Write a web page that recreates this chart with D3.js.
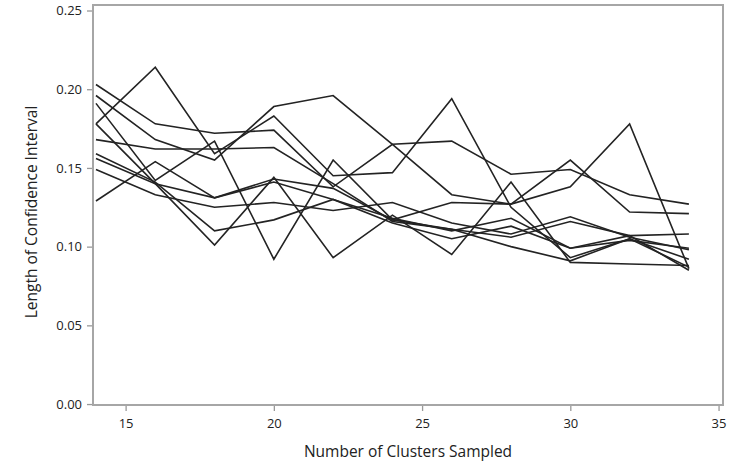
<!DOCTYPE html>
<html>
<head>
<meta charset="utf-8">
<script src="https://cdn.jsdelivr.net/npm/d3@7"></script>
<style>
  body { margin: 0; background: #fff; }
  text { font-family: "Open Sans", "Noto Sans", sans-serif; fill: #222; }
</style>
</head>
<body>
<svg id="chart" width="733" height="464"></svg>
<script>
// number of clusters sampled
const clusters = [14, 16, 18, 20, 22, 24, 26, 28, 30, 32, 34];

// length of confidence interval, one array per replicate
const run1  = [0.203, 0.178, 0.172, 0.174, 0.138, 0.165, 0.167, 0.146, 0.149, 0.133, 0.127];
const run2  = [0.196, 0.168, 0.155, 0.189, 0.196, 0.165, 0.133, 0.127, 0.155, 0.122, 0.121];
const run3  = [0.191, 0.142, 0.167, 0.092, 0.155, 0.117, 0.128, 0.127, 0.138, 0.178, 0.086];
const run4  = [0.178, 0.214, 0.159, 0.183, 0.145, 0.147, 0.194, 0.125, 0.093, 0.105, 0.092];
const run5  = [0.178, 0.140, 0.101, 0.144, 0.093, 0.120, 0.095, 0.141, 0.090, 0.089, 0.088];
const run6  = [0.168, 0.162, 0.162, 0.163, 0.140, 0.116, 0.111, 0.106, 0.116, 0.107, 0.108];
const run7  = [0.159, 0.141, 0.110, 0.117, 0.130, 0.115, 0.105, 0.113, 0.099, 0.104, 0.099];
const run8  = [0.156, 0.140, 0.131, 0.143, 0.137, 0.117, 0.111, 0.100, 0.091, 0.105, 0.087];
const run9  = [0.149, 0.133, 0.125, 0.128, 0.123, 0.128, 0.115, 0.108, 0.119, 0.106, 0.098];
const run10 = [0.129, 0.154, 0.131, 0.141, 0.130, 0.118, 0.110, 0.118, 0.099, 0.107, 0.085];
const runs = [run1, run2, run3, run4, run5, run6, run7, run8, run9, run10];

const xTicks = [15, 20, 25, 30, 35];
const yTicks = [0, 0.05, 0.10, 0.15, 0.20, 0.25];

const svg = d3.select("#chart");
const plotL = 93, plotR = 723, plotT = 5, plotB = 405;

const x = d3.scaleLinear().domain([13.9, 35.15]).range([plotL, plotR]);
const y = d3.scaleLinear().domain([-0.0006, 0.2535]).range([plotB, plotT]);

// axes
const xAxis = svg.append("g")
  .attr("transform", `translate(0,${plotB})`)
  .call(d3.axisBottom(x).tickValues(xTicks).tickFormat(d3.format("d")).tickSize(6).tickPadding(8));
const yAxis = svg.append("g")
  .attr("transform", `translate(${plotL},0)`)
  .call(d3.axisLeft(y).tickValues(yTicks).tickFormat(d3.format(".2f")).tickSize(6).tickPadding(5));

[xAxis, yAxis].forEach(g => {
  g.select(".domain").remove();
  g.selectAll(".tick line").attr("stroke", "#999").attr("stroke-width", 1.3);
  g.selectAll(".tick text").style("font-size", "13px").attr("fill", "#222");
});

// frame
svg.append("rect")
  .attr("x", plotL).attr("y", plotT)
  .attr("width", plotR - plotL).attr("height", plotB - plotT)
  .attr("fill", "none").attr("stroke", "#a6a6a6").attr("stroke-width", 2);

// lines
const line = d3.line()
  .x((d, i) => x(clusters[i]))
  .y(d => y(d));

svg.append("g").selectAll("path")
  .data(runs)
  .join("path")
  .attr("d", line)
  .attr("fill", "none")
  .attr("stroke", "#232323")
  .attr("stroke-width", 1.6)
  .attr("stroke-linejoin", "miter");

// titles
svg.append("text")
  .attr("x", 408).attr("y", 457)
  .attr("text-anchor", "middle")
  .style("font-size", "15.5px")
  .text("Number of Clusters Sampled");

svg.append("text")
  .attr("transform", `translate(37,212) rotate(-90)`)
  .attr("text-anchor", "middle")
  .style("font-size", "15.5px")
  .text("Length of Confidence Interval");
</script>
</body>
</html>
